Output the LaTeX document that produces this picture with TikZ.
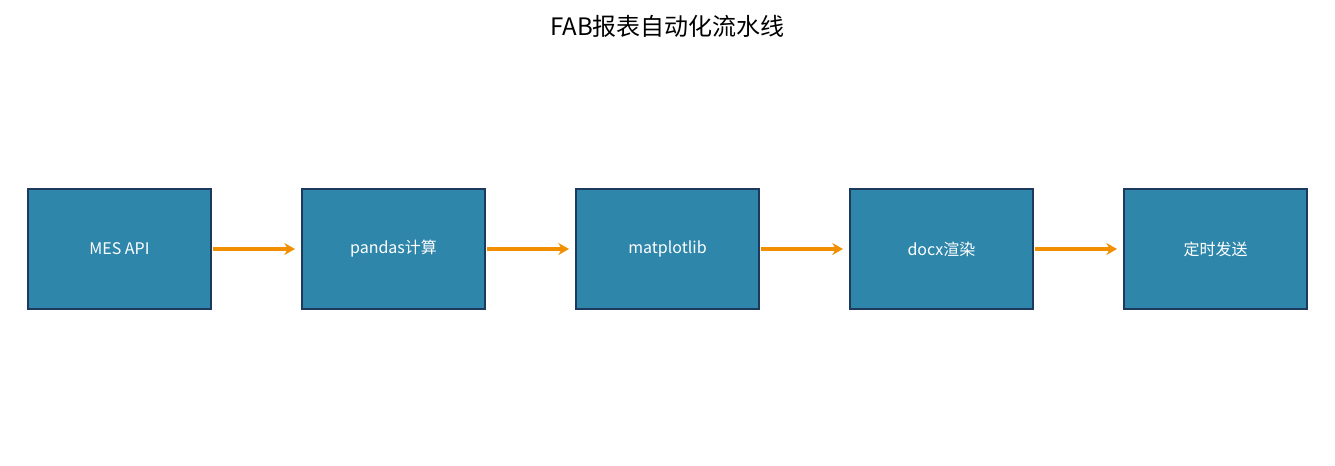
\documentclass[tikz,border=0pt]{standalone}
\usepackage{fontspec}
\setmainfont{Noto Sans CJK SC}
\usetikzlibrary{arrows.meta}
\definecolor{boxfill}{HTML}{2E86AB}
\definecolor{boxedge}{HTML}{1D3A5E}
\definecolor{arrowc}{HTML}{F18F01}
\tikzset{
  stagebox/.style={draw=boxedge, fill=boxfill, line width=1.5pt, minimum width=137.25pt, minimum height=90pt, inner sep=0pt, text=white, font=\fontsize{12pt}{14pt}\selectfont},
  flowarrow/.style={draw=arrowc, line width=2.4pt, -{Stealth[length=8pt,width=9pt]}, shorten >=4.5pt, shorten <=1pt}
}
\begin{document}
\begin{tikzpicture}[x=0.75pt,y=-0.75pt]
\useasboundingbox (0,0) rectangle (1335,465);
\node[font=\fontsize{18pt}{21pt}\selectfont] (title) at (667.5,26) {FAB报表自动化流水线};
\node[stagebox] (a) at (119.5,249) {MES API};
\node[stagebox] (b) at (393.5,249) {pandas计算};
\node[stagebox] (c) at (667.5,249) {matplotlib};
\node[stagebox] (d) at (941.5,249) {docx渲染};
\node[stagebox] (e) at (1215.5,249) {定时发送};
\draw[flowarrow] (a.east) -- (b.west);
\draw[flowarrow] (b.east) -- (c.west);
\draw[flowarrow] (c.east) -- (d.west);
\draw[flowarrow] (d.east) -- (e.west);
\end{tikzpicture}
\end{document}
